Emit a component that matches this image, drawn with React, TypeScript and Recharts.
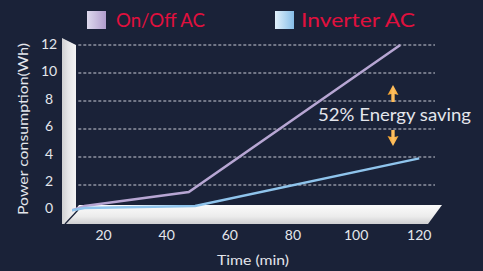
import React from 'react';
import { LineChart, Line, XAxis, YAxis, ReferenceLine } from 'recharts';

const seriesNames = ['On/Off AC', 'Inverter AC'];
const onOffTime = [10, 14, 47, 114];
const onOffPower = [0.2, 0.5, 1.5, 12];
const inverterTime = [10, 14, 49, 120];
const inverterPower = [0.2, 0.35, 0.5, 3.9];
const xTicks = [20, 40, 60, 80, 100, 120];
const yTicks = [0, 2, 4, 6, 8, 10, 12];
const gridValues = [2, 4, 6, 8, 10, 12];
const xTitle = 'Time (min)';
const yTitle = 'Power consumption(Wh)';
const annotation = '52% Energy saving';

const onOffData = onOffTime.map((t, i) => ({ t, v: onOffPower[i] }));
const inverterData = inverterTime.map((t, i) => ({ t, v: inverterPower[i] }));

const BG = '#1a2238';
const FONT = 'Lato, "Noto Sans", sans-serif';
const TXT = '#e4e6ec';

const YTick = (props: any) => {
  const v = props.payload.value;
  const shift = -1 - (12 - v) * 0.3;
  return (
    <text x={49} y={props.y + shift} dy="0.36em" textAnchor="middle" fill={TXT} fontSize={14} fontFamily={FONT}>
      {v}
    </text>
  );
};

const XTick = (props: any) => (
  <text x={props.x} y={240} textAnchor="middle" fill={TXT} fontSize={14} fontFamily={FONT}>
    {props.payload.value}
  </text>
);

export default function App() {
  return (
    <div style={{ position: 'absolute', left: 0, top: 0, width: 483, height: 271, background: BG, overflow: 'hidden' }}>
      <svg width={483} height={271} style={{ position: 'absolute', left: 0, top: 0 }}>
        <defs>
          <linearGradient id="wallG" x1="0" y1="0" x2="1" y2="0">
            <stop offset="0%" stopColor="#d0d0d2" />
            <stop offset="45%" stopColor="#e6e6e8" />
            <stop offset="100%" stopColor="#f4f4f4" />
          </linearGradient>
          <linearGradient id="floorG" x1="0" y1="0" x2="0" y2="1">
            <stop offset="0%" stopColor="#fbfbfb" />
            <stop offset="60%" stopColor="#ececec" />
            <stop offset="100%" stopColor="#cfcfd1" />
          </linearGradient>
        </defs>
        <polygon points="62,38 76,45 76,224 62,224" fill="url(#wallG)" />
        <polygon points="79,205 442,205 428,224 64,224" fill="url(#floorG)" />
        <line x1={65} y1={224} x2={78} y2={210} stroke={BG} strokeWidth={1.3} />
      </svg>
      <div style={{ position: 'absolute', left: 0, top: 0 }}>
        <LineChart width={483} height={271} margin={{ top: 45, right: 48, bottom: 0, left: 0 }}>
          <XAxis
            dataKey="t"
            type="number"
            domain={[10, 125]}
            ticks={xTicks}
            allowDataOverflow
            axisLine={false}
            tickLine={false}
            height={58}
            tick={<XTick />}
          />
          <YAxis
            type="number"
            domain={[0, 12]}
            ticks={yTicks}
            axisLine={false}
            tickLine={false}
            width={72}
            tick={<YTick />}
          />
          {gridValues.map((v) => (
            <ReferenceLine
              key={v}
              segment={[{ x: 12, y: v }, { x: 125, y: v }]}
              stroke="#c9ccd6"
              strokeDasharray="3 2"
              strokeWidth={1}
              ifOverflow="extendDomain"
            />
          ))}
          <Line data={onOffData} dataKey="v" name={seriesNames[0]} type="linear" stroke="#b7a6d3" strokeWidth={2.5} dot={false} isAnimationActive={false} />
          <Line data={inverterData} dataKey="v" name={seriesNames[1]} type="linear" stroke="#8fc4ec" strokeWidth={2.5} dot={false} isAnimationActive={false} />
        </LineChart>
      </div>
      <svg width={483} height={271} style={{ position: 'absolute', left: 0, top: 0, pointerEvents: 'none' }}>
        <defs>
          <linearGradient id="lg1" x1="0" y1="0" x2="1" y2="0">
            <stop offset="0%" stopColor="#dedaee" />
            <stop offset="100%" stopColor="#b19dcd" />
          </linearGradient>
          <linearGradient id="lg2" x1="0" y1="0" x2="1" y2="0">
            <stop offset="0%" stopColor="#e2f1fb" />
            <stop offset="100%" stopColor="#86bde8" />
          </linearGradient>
          <linearGradient id="arrG" x1="0" y1="0" x2="1" y2="0">
            <stop offset="0%" stopColor="#f29a1c" />
            <stop offset="50%" stopColor="#ffc163" />
            <stop offset="100%" stopColor="#f4a431" />
          </linearGradient>
        </defs>
        <rect x={87} y={11} width={19} height={18} fill="url(#lg1)" />
        <text x={116} y={26.5} fill="#e1103e" fontSize={20} fontFamily={FONT} textLength={89} lengthAdjust="spacingAndGlyphs">
          {seriesNames[0]}
        </text>
        <rect x={275} y={11} width={19} height={18} fill="url(#lg2)" />
        <text x={301} y={26.5} fill="#e1103e" fontSize={20} fontFamily={FONT} textLength={114} lengthAdjust="spacingAndGlyphs">
          {seriesNames[1]}
        </text>
        <text x={318} y={120.5} fill={TXT} fontSize={18} fontFamily={FONT} textLength={153} lengthAdjust="spacingAndGlyphs">
          {annotation}
        </text>
        <path d="M393,85 L398.5,95 L394.7,94 L394.7,102 L391.3,102 L391.3,94 L387.5,95 Z" fill="url(#arrG)" />
        <path d="M393,146 L398.5,136 L394.7,137 L394.7,130 L391.3,130 L391.3,137 L387.5,136 Z" fill="url(#arrG)" />
        <text x={253} y={265} textAnchor="middle" fill={TXT} fontSize={14} fontFamily={FONT} textLength={72} lengthAdjust="spacingAndGlyphs">
          {xTitle}
        </text>
        <text
          x={0}
          y={0}
          transform="translate(28,129) rotate(-90)"
          textAnchor="middle"
          fill={TXT}
          fontSize={14}
          fontFamily={FONT}
          textLength={172}
          lengthAdjust="spacingAndGlyphs"
        >
          {yTitle}
        </text>
      </svg>
    </div>
  );
}
